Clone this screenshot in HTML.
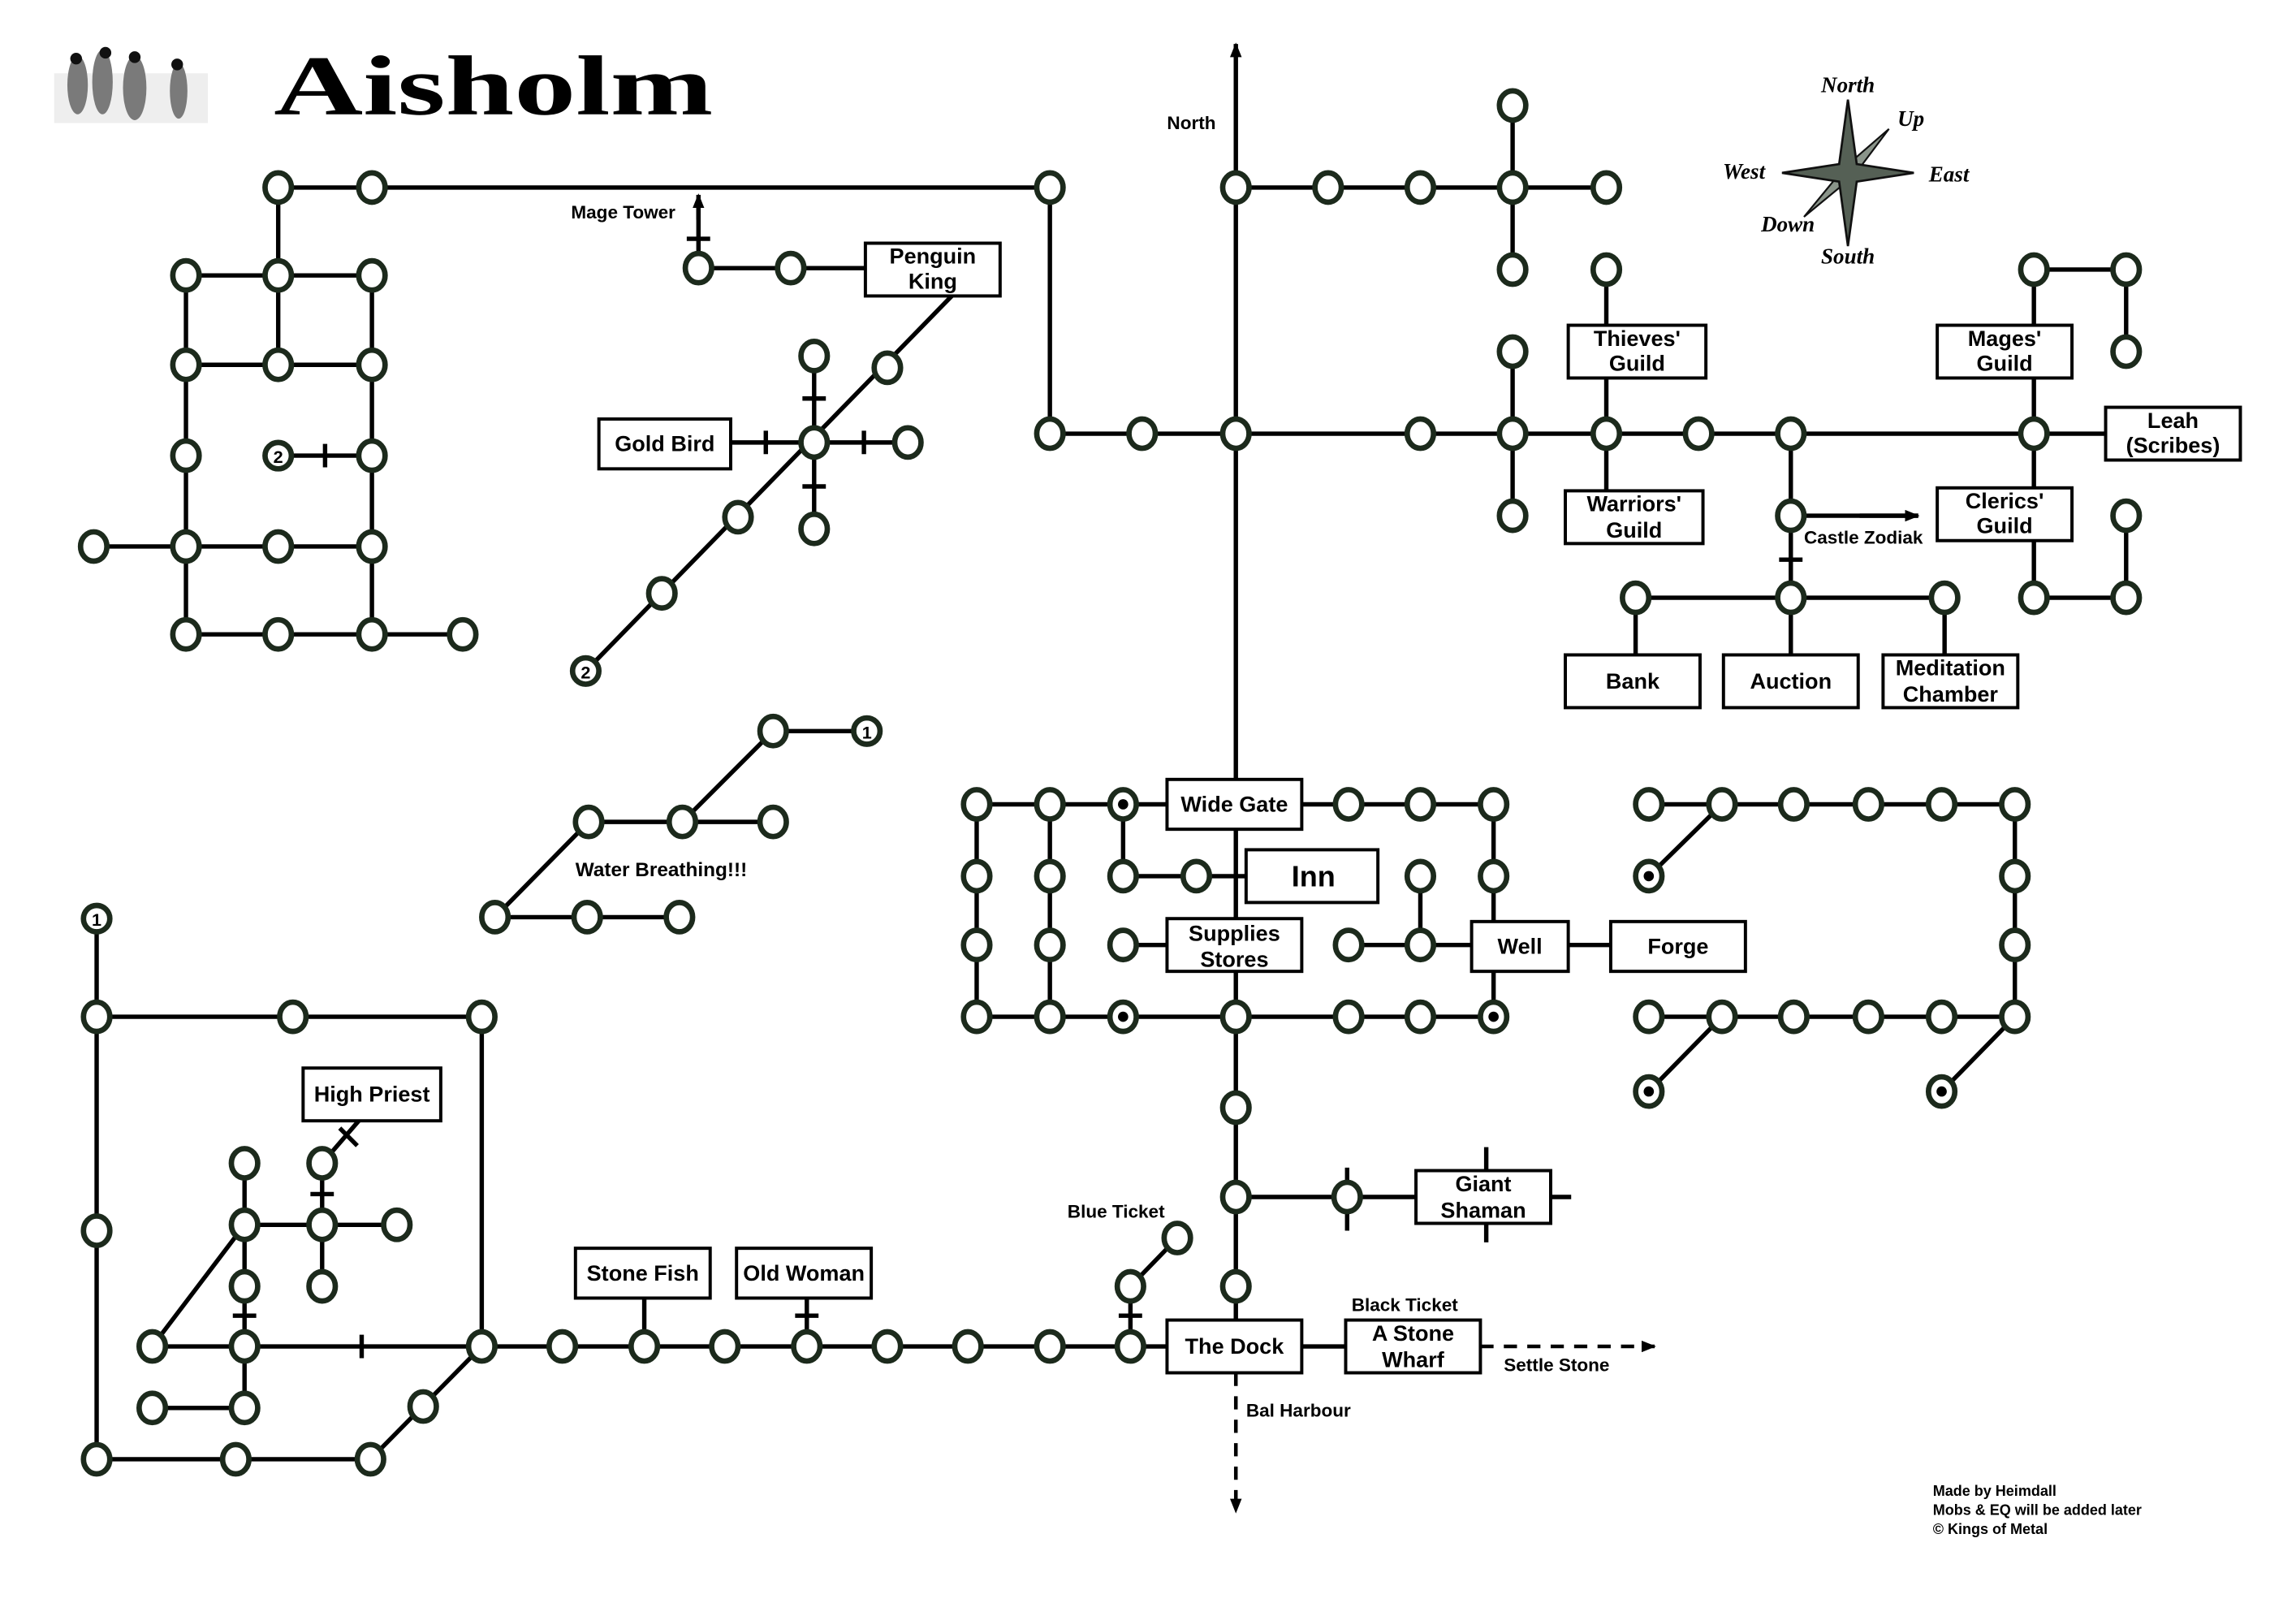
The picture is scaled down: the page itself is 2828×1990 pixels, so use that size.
<!DOCTYPE html>
<html><head><meta charset="utf-8"><style>
html,body{margin:0;padding:0;background:#fff;}
svg{display:block;}
.n{fill:#fff;stroke:#1c2a1c;stroke-width:3.7;}
.l{stroke:#000;stroke-width:3;fill:none;}
.b{fill:#fff;stroke:#000;stroke-width:2.2;}
text{font-family:"Liberation Sans",sans-serif;font-weight:bold;fill:#000;}
.t{font-size:15px;text-anchor:middle;}
.s{font-size:12.5px;}
.c{font-family:"Liberation Serif",serif;font-style:italic;font-size:15px;font-weight:bold;text-anchor:middle;}
</style></head><body>
<svg width="2828" height="1990" viewBox="0 0 1568 1103" preserveAspectRatio="none" xmlns="http://www.w3.org/2000/svg">
<defs><marker id="ar" markerWidth="10" markerHeight="8" refX="9" refY="4" orient="auto" markerUnits="userSpaceOnUse"><path d="M0,0 L10,4 L0,8 Z" fill="#000"/></marker></defs>
<!-- penguins -->
<rect x="37" y="50" width="105" height="34" fill="#eee"/>
<g fill="#7a7a7a">
<ellipse cx="53" cy="58" rx="7" ry="20"/><ellipse cx="70" cy="56" rx="7" ry="22"/><ellipse cx="92" cy="60" rx="8" ry="22"/><ellipse cx="122" cy="62" rx="6" ry="19"/>
</g>
<g fill="#111"><circle cx="52" cy="40" r="4"/><circle cx="72" cy="36" r="4"/><circle cx="92" cy="39" r="4"/><circle cx="121" cy="44" r="4"/></g>
<text x="187" y="78" textLength="300" lengthAdjust="spacingAndGlyphs" style="font-family:'Liberation Serif',serif;font-size:58px;font-weight:bold">Aisholm</text>
<!-- compass -->
<g transform="translate(1262,118)">
<polygon points="28,-30 4,2 -30,30 -2,-4" fill="#8a948a" stroke="#111" stroke-width="1.2"/>
<polygon points="0,-50 6,-6 45,0 6,6 0,50 -6,6 -45,0 -6,-6" fill="#556055" stroke="#111" stroke-width="1.5"/>
</g>
<text class="c" x="1262" y="63">North</text><text class="c" x="1305" y="86">Up</text>
<text class="c" x="1191" y="122">West</text><text class="c" x="1331" y="124">East</text>
<text class="c" x="1221" y="158">Down</text><text class="c" x="1262" y="180">South</text>

<!-- lines -->
<g class="l">
<path d="M190,128H717V296H1389M190,128V249M127,188H254M127,249H254M127,188V433M254,188V433M64,373H254M127,433H316M190,311H254M222,303V319"/>
<path d="M477,183V137M469,163H485M477,183H591M650,202L400,458M556,243V361M548,272H564M548,332H564M499,302H620M523,294V310M590,294V310"/>
<path d="M592,499H528L466,561M402,561H528M402,561L338,626H464"/>
<path d="M66,627V996H253L329,919V694H66M245,765L220,794V878M232,770L244,782M212,815H228M167,836H271M167,794V961M159,898H175M104,919L167,836M104,919H797M247,911V927M104,961H167M440,886V919M551,886V919M543,898H559M772,919V878L804,845M764,898H780"/>
<path d="M844,36V532M844,566V901M844,817H967M920,797V840M1015,783V848M1058,817H1073M889,919H919"/>
<path d="M844,128H1097M1033,72V184M1033,240V352M1389,296H1438M1097,184V335M1223,296V447M1215,382H1231M1223,352H1310M1117,408H1328M1117,408V447M1328,408V447M1389,184V333M1389,369V408M1389,184H1452V240M1389,408H1452V352"/>
<path d="M667,549H797M889,549H1020V629M1020,663V694M667,549V694M717,549V694M767,549V598M767,598H851M767,645H797M970,598V645M921,645H1005M1071,645H1100M667,694H1020"/>
<path d="M1126,549H1376V694M1176,549L1126,598M1126,694H1376M1176,694L1126,745M1376,694L1326,745"/>
</g>
<path d="M844,36V30" stroke="#000" stroke-width="3" marker-end="url(#ar)"/>
<path d="M477,150V133" stroke="#000" stroke-width="3" marker-end="url(#ar)"/>
<path d="M1270,352H1310" stroke="#000" stroke-width="3" marker-end="url(#ar)"/>
<path d="M1011,919H1130" stroke="#000" stroke-width="2.5" stroke-dasharray="9,7" marker-end="url(#ar)"/>
<path d="M844,937V1032" stroke="#000" stroke-width="2.5" stroke-dasharray="9,7" marker-end="url(#ar)"/>

<!-- nodes -->
<g class="n">
<ellipse cx="190" cy="128" rx="9" ry="10"/><ellipse cx="254" cy="128" rx="9" ry="10"/><ellipse cx="717" cy="128" rx="9" ry="10"/>
<ellipse cx="127" cy="188" rx="9" ry="10"/><ellipse cx="190" cy="188" rx="9" ry="10"/><ellipse cx="254" cy="188" rx="9" ry="10"/>
<ellipse cx="127" cy="249" rx="9" ry="10"/><ellipse cx="190" cy="249" rx="9" ry="10"/><ellipse cx="254" cy="249" rx="9" ry="10"/>
<ellipse cx="127" cy="311" rx="9" ry="10"/><ellipse cx="254" cy="311" rx="9" ry="10"/>
<ellipse cx="64" cy="373" rx="9" ry="10"/><ellipse cx="127" cy="373" rx="9" ry="10"/><ellipse cx="190" cy="373" rx="9" ry="10"/><ellipse cx="254" cy="373" rx="9" ry="10"/>
<ellipse cx="127" cy="433" rx="9" ry="10"/><ellipse cx="190" cy="433" rx="9" ry="10"/><ellipse cx="254" cy="433" rx="9" ry="10"/><ellipse cx="316" cy="433" rx="9" ry="10"/>
<ellipse cx="477" cy="183" rx="9" ry="10"/><ellipse cx="540" cy="183" rx="9" ry="10"/>
<ellipse cx="606" cy="251" rx="9" ry="10"/><ellipse cx="556" cy="302" rx="9" ry="10"/><ellipse cx="504" cy="353" rx="9" ry="10"/><ellipse cx="452" cy="405" rx="9" ry="10"/>
<ellipse cx="556" cy="243" rx="9" ry="10"/><ellipse cx="556" cy="361" rx="9" ry="10"/><ellipse cx="620" cy="302" rx="9" ry="10"/>
<ellipse cx="528" cy="499" rx="9" ry="10"/><ellipse cx="402" cy="561" rx="9" ry="10"/><ellipse cx="466" cy="561" rx="9" ry="10"/><ellipse cx="528" cy="561" rx="9" ry="10"/>
<ellipse cx="338" cy="626" rx="9" ry="10"/><ellipse cx="401" cy="626" rx="9" ry="10"/><ellipse cx="464" cy="626" rx="9" ry="10"/>
<ellipse cx="66" cy="694" rx="9" ry="10"/><ellipse cx="200" cy="694" rx="9" ry="10"/><ellipse cx="329" cy="694" rx="9" ry="10"/><ellipse cx="66" cy="840" rx="9" ry="10"/>
<ellipse cx="66" cy="996" rx="9" ry="10"/><ellipse cx="161" cy="996" rx="9" ry="10"/><ellipse cx="253" cy="996" rx="9" ry="10"/><ellipse cx="289" cy="960" rx="9" ry="10"/>
<ellipse cx="220" cy="794" rx="9" ry="10"/><ellipse cx="220" cy="836" rx="9" ry="10"/><ellipse cx="220" cy="878" rx="9" ry="10"/><ellipse cx="271" cy="836" rx="9" ry="10"/>
<ellipse cx="167" cy="794" rx="9" ry="10"/><ellipse cx="167" cy="836" rx="9" ry="10"/><ellipse cx="167" cy="878" rx="9" ry="10"/><ellipse cx="167" cy="919" rx="9" ry="10"/><ellipse cx="167" cy="961" rx="9" ry="10"/>
<ellipse cx="104" cy="919" rx="9" ry="10"/><ellipse cx="104" cy="961" rx="9" ry="10"/>
<ellipse cx="329" cy="919" rx="9" ry="10"/><ellipse cx="384" cy="919" rx="9" ry="10"/><ellipse cx="440" cy="919" rx="9" ry="10"/><ellipse cx="495" cy="919" rx="9" ry="10"/><ellipse cx="551" cy="919" rx="9" ry="10"/><ellipse cx="606" cy="919" rx="9" ry="10"/><ellipse cx="661" cy="919" rx="9" ry="10"/><ellipse cx="717" cy="919" rx="9" ry="10"/><ellipse cx="772" cy="919" rx="9" ry="10"/>
<ellipse cx="772" cy="878" rx="9" ry="10"/><ellipse cx="804" cy="845" rx="9" ry="10"/>
<ellipse cx="844" cy="756" rx="9" ry="10"/><ellipse cx="844" cy="817" rx="9" ry="10"/><ellipse cx="844" cy="878" rx="9" ry="10"/><ellipse cx="920" cy="817" rx="9" ry="10"/>
<ellipse cx="780" cy="296" rx="9" ry="10"/><ellipse cx="844" cy="296" rx="9" ry="10"/><ellipse cx="717" cy="296" rx="9" ry="10"/>
<ellipse cx="844" cy="128" rx="9" ry="10"/><ellipse cx="907" cy="128" rx="9" ry="10"/><ellipse cx="970" cy="128" rx="9" ry="10"/><ellipse cx="1033" cy="128" rx="9" ry="10"/><ellipse cx="1097" cy="128" rx="9" ry="10"/>
<ellipse cx="1033" cy="72" rx="9" ry="10"/><ellipse cx="1033" cy="184" rx="9" ry="10"/><ellipse cx="1033" cy="240" rx="9" ry="10"/><ellipse cx="1033" cy="352" rx="9" ry="10"/>
<ellipse cx="970" cy="296" rx="9" ry="10"/><ellipse cx="1033" cy="296" rx="9" ry="10"/><ellipse cx="1097" cy="296" rx="9" ry="10"/><ellipse cx="1160" cy="296" rx="9" ry="10"/><ellipse cx="1223" cy="296" rx="9" ry="10"/><ellipse cx="1389" cy="296" rx="9" ry="10"/>
<ellipse cx="1097" cy="184" rx="9" ry="10"/><ellipse cx="1223" cy="352" rx="9" ry="10"/>
<ellipse cx="1117" cy="408" rx="9" ry="10"/><ellipse cx="1223" cy="408" rx="9" ry="10"/><ellipse cx="1328" cy="408" rx="9" ry="10"/>
<ellipse cx="1389" cy="184" rx="9" ry="10"/><ellipse cx="1452" cy="184" rx="9" ry="10"/><ellipse cx="1452" cy="240" rx="9" ry="10"/>
<ellipse cx="1389" cy="408" rx="9" ry="10"/><ellipse cx="1452" cy="408" rx="9" ry="10"/><ellipse cx="1452" cy="352" rx="9" ry="10"/>
<ellipse cx="667" cy="549" rx="9" ry="10"/><ellipse cx="717" cy="549" rx="9" ry="10"/><ellipse cx="767" cy="549" rx="9" ry="10"/><ellipse cx="921" cy="549" rx="9" ry="10"/><ellipse cx="970" cy="549" rx="9" ry="10"/><ellipse cx="1020" cy="549" rx="9" ry="10"/>
<ellipse cx="667" cy="598" rx="9" ry="10"/><ellipse cx="717" cy="598" rx="9" ry="10"/><ellipse cx="767" cy="598" rx="9" ry="10"/><ellipse cx="817" cy="598" rx="9" ry="10"/><ellipse cx="970" cy="598" rx="9" ry="10"/><ellipse cx="1020" cy="598" rx="9" ry="10"/>
<ellipse cx="667" cy="645" rx="9" ry="10"/><ellipse cx="717" cy="645" rx="9" ry="10"/><ellipse cx="767" cy="645" rx="9" ry="10"/><ellipse cx="921" cy="645" rx="9" ry="10"/><ellipse cx="970" cy="645" rx="9" ry="10"/>
<ellipse cx="667" cy="694" rx="9" ry="10"/><ellipse cx="717" cy="694" rx="9" ry="10"/><ellipse cx="767" cy="694" rx="9" ry="10"/><ellipse cx="844" cy="694" rx="9" ry="10"/><ellipse cx="921" cy="694" rx="9" ry="10"/><ellipse cx="970" cy="694" rx="9" ry="10"/><ellipse cx="1020" cy="694" rx="9" ry="10"/>
<ellipse cx="1126" cy="549" rx="9" ry="10"/><ellipse cx="1176" cy="549" rx="9" ry="10"/><ellipse cx="1225" cy="549" rx="9" ry="10"/><ellipse cx="1276" cy="549" rx="9" ry="10"/><ellipse cx="1326" cy="549" rx="9" ry="10"/><ellipse cx="1376" cy="549" rx="9" ry="10"/>
<ellipse cx="1126" cy="598" rx="9" ry="10"/><ellipse cx="1376" cy="598" rx="9" ry="10"/><ellipse cx="1376" cy="645" rx="9" ry="10"/>
<ellipse cx="1126" cy="694" rx="9" ry="10"/><ellipse cx="1176" cy="694" rx="9" ry="10"/><ellipse cx="1225" cy="694" rx="9" ry="10"/><ellipse cx="1276" cy="694" rx="9" ry="10"/><ellipse cx="1326" cy="694" rx="9" ry="10"/><ellipse cx="1376" cy="694" rx="9" ry="10"/>
<ellipse cx="1126" cy="745" rx="9" ry="10"/><ellipse cx="1326" cy="745" rx="9" ry="10"/>
<ellipse cx="190" cy="311" rx="9" ry="9"/><ellipse cx="400" cy="458" rx="9" ry="9"/><ellipse cx="592" cy="499" rx="9" ry="9"/><ellipse cx="66" cy="627" rx="9" ry="9"/>
</g>
<g fill="#000"><circle cx="767" cy="549" r="3.5"/><circle cx="767" cy="694" r="3.5"/><circle cx="1020" cy="694" r="3.5"/><circle cx="1126" cy="598" r="3.5"/><circle cx="1126" cy="745" r="3.5"/><circle cx="1326" cy="745" r="3.5"/></g>
<g class="t" style="font-size:12px"><text x="190" y="316">2</text><text x="400" y="463">2</text><text x="592" y="504">1</text><text x="66" y="632">1</text></g>

<!-- boxes -->
<g class="b">
<rect x="591" y="166" width="92" height="36"/><rect x="409" y="286" width="90" height="34"/>
<rect x="1071" y="222" width="94" height="36"/><rect x="1069" y="335" width="94" height="36"/>
<rect x="1323" y="222" width="92" height="36"/><rect x="1323" y="333" width="92" height="36"/><rect x="1438" y="278" width="92" height="36"/>
<rect x="1069" y="447" width="92" height="36"/><rect x="1177" y="447" width="92" height="36"/><rect x="1286" y="447" width="92" height="36"/>
<rect x="797" y="532" width="92" height="34"/><rect x="851" y="580" width="90" height="36"/><rect x="797" y="627" width="92" height="36"/>
<rect x="1005" y="629" width="66" height="34"/><rect x="1100" y="629" width="92" height="34"/>
<rect x="207" y="729" width="94" height="36"/><rect x="967" y="799" width="92" height="36"/>
<rect x="393" y="852" width="92" height="34"/><rect x="503" y="852" width="92" height="34"/>
<rect x="797" y="901" width="92" height="36"/><rect x="919" y="901" width="92" height="36"/>
</g>
<g class="t">
<text x="637" y="180">Penguin</text><text x="637" y="197">King</text>
<text x="454" y="308">Gold Bird</text>
<text x="1118" y="236">Thieves'</text><text x="1118" y="253">Guild</text>
<text x="1116" y="349">Warriors'</text><text x="1116" y="367">Guild</text>
<text x="1369" y="236">Mages'</text><text x="1369" y="253">Guild</text>
<text x="1369" y="347">Clerics'</text><text x="1369" y="364">Guild</text>
<text x="1484" y="292">Leah</text><text x="1484" y="309">(Scribes)</text>
<text x="1115" y="470">Bank</text><text x="1223" y="470">Auction</text>
<text x="1332" y="461">Meditation</text><text x="1332" y="479">Chamber</text>
<text x="843" y="554">Wide Gate</text>
<text x="897" y="605" style="font-size:20px">Inn</text>
<text x="843" y="642">Supplies</text><text x="843" y="660">Stores</text>
<text x="1038" y="651">Well</text><text x="1146" y="651">Forge</text>
<text x="254" y="752">High Priest</text>
<text x="1013" y="813">Giant</text><text x="1013" y="831">Shaman</text>
<text x="439" y="874">Stone Fish</text><text x="549" y="874">Old Woman</text>
<text x="843" y="924">The Dock</text>
<text x="965" y="915">A Stone</text><text x="965" y="933">Wharf</text>
</g>
<g class="s">
<text x="390" y="149">Mage Tower</text>
<text x="797" y="88">North</text>
<text x="1232" y="371">Castle Zodiak</text>
<text x="393" y="598" style="font-size:13.5px">Water Breathing!!!</text>
<text x="729" y="831">Blue Ticket</text>
<text x="923" y="895">Black Ticket</text>
<text x="1027" y="936">Settle Stone</text>
<text x="851" y="967">Bal Harbour</text>
</g>
<g style="font-size:10px"><text x="1320" y="1021">Made by Heimdall</text><text x="1320" y="1034">Mobs &amp; EQ will be added later</text><text x="1320" y="1047">© Kings of Metal</text></g>
</svg>
</body></html>
